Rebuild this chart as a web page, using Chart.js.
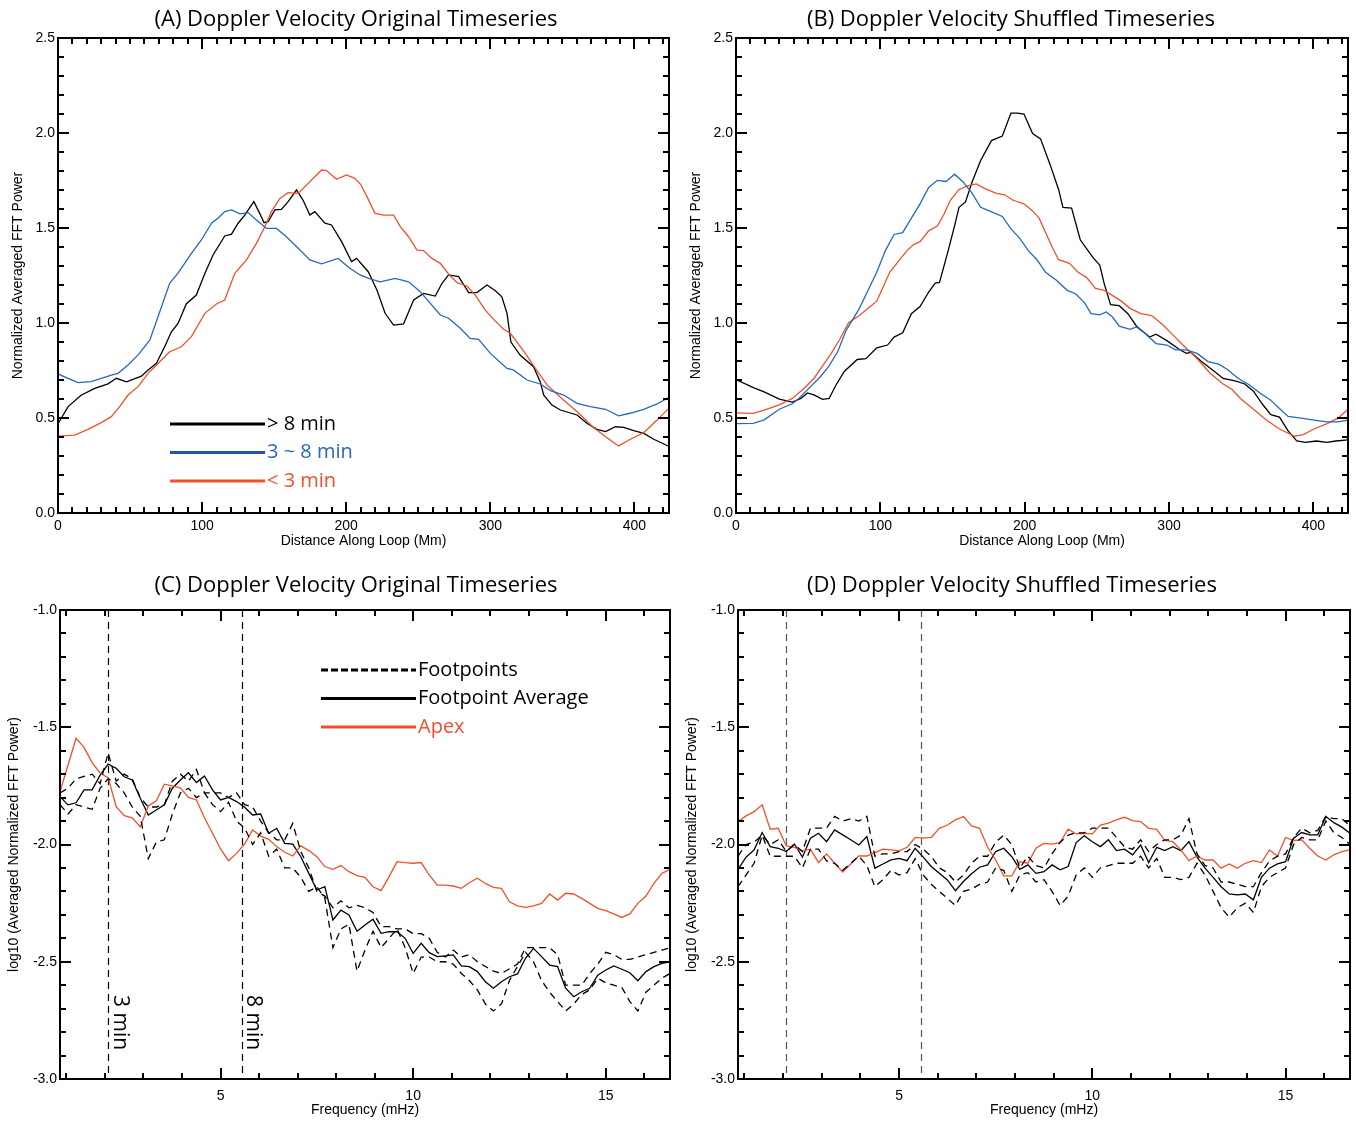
<!DOCTYPE html>
<html>
<head>
<meta charset="utf-8">
<script src="https://cdn.jsdelivr.net/npm/chart.js@4.4.0/dist/chart.umd.min.js"></script>
<style>
html, body { margin: 0; padding: 0; background: #fff; }
#wrap { position: relative; width: 1356px; height: 1124px; overflow: hidden; background: #fff; }
#wrap canvas { position: absolute; }
</style>
</head>
<body>
<div id="wrap">
  <canvas id="cA" width="678" height="560" style="left:0px;top:0px;width:678px;height:560px"></canvas>
  <canvas id="cB" width="678" height="560" style="left:678px;top:0px;width:678px;height:560px"></canvas>
  <canvas id="cC" width="678" height="564" style="left:0px;top:560px;width:678px;height:564px"></canvas>
  <canvas id="cD" width="678" height="564" style="left:678px;top:560px;width:678px;height:564px"></canvas>
</div>
<script>
// ---------------- DATA ----------------
// Panel A: Doppler velocity, original timeseries (distance in Mm, normalized power)
const aLongDist = [0,7,16,25.5,34.7,40.5,47.5,57.9,62.5,68.3,74,78.7,83.3,89,96,101.9,107.6,115.7,120.4,125,129.6,135.9,140,143,145.8,150.5,155,159.7,165.5,170,174.8,178.2,185.2,189.8,196.8,203.7,207.2,215.3,221.3,227,232.9,239.8,246.8,253.7,261.8,266.5,271,278,285,290.7,297.7,303.5,308,311.6,314.3,320.8,330,334.7,337,342.8,348.6,360.2,367,374,380,386.8,392.6,399.5,406.5,413.4,424.5];
const aLongPower = [0.47,0.56,0.62,0.656,0.68,0.709,0.69,0.72,0.753,0.788,0.875,0.954,0.998,1.10,1.147,1.26,1.358,1.458,1.468,1.525,1.568,1.639,1.577,1.528,1.533,1.595,1.598,1.639,1.70,1.647,1.568,1.586,1.525,1.516,1.428,1.323,1.34,1.27,1.174,1.051,0.989,0.995,1.121,1.156,1.142,1.209,1.253,1.244,1.16,1.16,1.2,1.17,1.138,1.051,0.90,0.83,0.77,0.69,0.621,0.568,0.542,0.516,0.472,0.44,0.428,0.454,0.451,0.433,0.419,0.388,0.349];
const aMidDist = [0,7,13.9,23,30,37,41.7,48.6,55.6,63.7,69.4,77.5,83.3,92.6,99.5,106.5,111,115.7,120.4,126.2,132,137.7,144.7,151.6,158.5,166.7,174.8,182.9,194.4,202.5,209.7,215.5,223.6,234,243.3,251.4,265.3,271,279.2,286,291.9,300,311.6,316,325.5,334.7,341.7,350.9,360.2,369.4,380,389,397,406.5,415.7,424.5];
const aMidPower = [0.732,0.709,0.686,0.691,0.709,0.726,0.735,0.779,0.832,0.91,1.033,1.209,1.262,1.367,1.437,1.525,1.551,1.586,1.595,1.574,1.581,1.542,1.498,1.498,1.454,1.393,1.332,1.311,1.34,1.288,1.253,1.235,1.217,1.235,1.217,1.165,1.042,1.025,0.972,0.919,0.914,0.84,0.761,0.753,0.70,0.679,0.644,0.621,0.577,0.56,0.546,0.511,0.525,0.546,0.574,0.612];
const aShortDist = [0,11.6,20.8,29,37,42.8,48.6,55.6,62.5,70.6,77.5,85.6,92.6,101.9,109.9,115.7,122.7,130.8,137.7,143.5,148.1,154,159.7,166.7,173.6,178.2,182.9,186.3,193.3,200.2,206,210,214.4,220,225.9,232.9,237.5,243.3,249.1,253.7,259.5,265.3,271,276.9,283.8,289.6,296.5,302.3,309.2,313.9,324.3,331.3,339.4,348.6,360.2,371.8,381,389,397.2,406.5,415.7,424.5];
const aShortPower = [0.405,0.41,0.44,0.472,0.507,0.56,0.621,0.665,0.735,0.796,0.849,0.875,0.928,1.051,1.10,1.121,1.262,1.332,1.419,1.507,1.586,1.656,1.686,1.682,1.735,1.77,1.805,1.802,1.756,1.779,1.761,1.73,1.665,1.577,1.568,1.568,1.507,1.454,1.384,1.381,1.34,1.314,1.258,1.212,1.195,1.147,1.068,1.019,0.967,0.946,0.84,0.761,0.674,0.609,0.533,0.449,0.396,0.353,0.388,0.423,0.489,0.556];

// Panel B: Doppler velocity, shuffled timeseries
const bLongDist = [0,12,19.5,30,39,45,49.5,54,60,64.5,69,75,84,90,97.5,105,109.5,115.5,121.5,127.5,133.5,138,141,147,151.5,154.5,159,163.5,169.5,177,184.5,190.5,195,199.5,205.5,211,217.5,223.5,226.5,232.5,238.5,243,247.5,252,255,259.5,265.5,271.5,277.5,286.5,291,298.5,307.5,312,315,322.5,331.5,337.5,346.5,352.5,358.5,364.5,370.5,376.5,382.5,388.5,394.5,402,409.5,415.5,424];
const bLongPower = [0.702,0.66,0.637,0.599,0.584,0.603,0.632,0.622,0.598,0.603,0.67,0.745,0.808,0.812,0.869,0.884,0.926,0.948,1.049,1.087,1.163,1.21,1.214,1.381,1.514,1.609,1.637,1.741,1.855,1.96,1.984,2.105,2.105,2.10,1.997,1.969,1.836,1.703,1.609,1.605,1.438,1.39,1.343,1.305,1.21,1.096,1.091,1.049,0.983,0.926,0.941,0.907,0.859,0.84,0.846,0.797,0.745,0.708,0.694,0.679,0.641,0.575,0.518,0.505,0.432,0.379,0.372,0.379,0.372,0.379,0.385];
const bMidDist = [0,12,19.5,30,39,43.5,51,58.5,64.5,70.5,76.5,85.5,91.5,97.5,103.5,109.5,115.5,121.5,127.5,133.5,139.5,145.5,151.5,157.5,163.5,169.5,175.5,184.5,190.5,196.5,202.5,208.5,214.5,222,229.5,235.5,241.5,246,252,256.5,261,265.5,273,277.5,283.5,291,298.5,304.5,312,319.5,327,334.5,340.5,348,355.5,363,370.5,376.5,382.5,391.5,400.5,409.5,417,424];
const bMidPower = [0.47,0.472,0.49,0.546,0.575,0.603,0.66,0.717,0.774,0.85,0.964,1.077,1.172,1.267,1.381,1.466,1.476,1.552,1.627,1.713,1.751,1.745,1.783,1.741,1.684,1.609,1.59,1.561,1.495,1.447,1.381,1.333,1.267,1.225,1.172,1.153,1.106,1.049,1.043,1.058,1.03,0.983,0.967,0.979,0.945,0.892,0.884,0.859,0.859,0.84,0.797,0.783,0.755,0.708,0.675,0.632,0.594,0.55,0.508,0.499,0.489,0.48,0.48,0.489];
const bShortDist = [0,12,19.5,30,39,46.5,54,60,66,72,78,85.5,91.5,97.5,102,106.5,112.5,118.5,123,127.5,133.5,139.5,144,148.5,154.5,160.5,166.5,172.5,180,186,192,199.5,205.5,210,214.5,219,223.5,231,237,243,249,255,261,267,273,280.5,288,295.5,303,310.5,319.5,328.5,337.5,343.5,349.5,358.5,367.5,376.5,387,393,400.5,409.5,417,424];
const bShortPower = [0.527,0.524,0.542,0.569,0.603,0.651,0.708,0.774,0.84,0.916,1.002,1.039,1.077,1.115,1.191,1.267,1.324,1.381,1.413,1.428,1.485,1.51,1.571,1.646,1.703,1.722,1.732,1.707,1.684,1.675,1.646,1.627,1.59,1.552,1.476,1.40,1.333,1.314,1.267,1.239,1.182,1.172,1.144,1.115,1.077,1.049,1.039,0.992,0.935,0.878,0.812,0.736,0.679,0.651,0.603,0.546,0.489,0.442,0.404,0.413,0.442,0.47,0.499,0.546];

// Panels C & D: frequency (mHz) and log10 power
const freqMHz = [0.833,1.042,1.25,1.458,1.667,1.875,2.083,2.292,2.5,2.708,
  2.917,3.125,3.333,3.542,3.75,3.958,4.167,4.375,4.583,4.792,
  5,5.208,5.417,5.625,5.833,6.042,6.25,6.458,6.667,6.875,
  7.083,7.292,7.5,7.708,7.917,8.125,8.333,8.542,8.75,8.958,
  9.167,9.375,9.583,9.792,10,10.208,10.417,10.625,10.833,11.042,
  11.25,11.458,11.667,11.875,12.083,12.292,12.5,12.708,12.917,13.125,
  13.333,13.542,13.75,13.958,14.167,14.375,14.583,14.792,15,15.208,
  15.417,15.625,15.833,16.042,16.25,16.458,16.667];

const cFootA = [-1.78,-1.76,-1.72,-1.71,-1.70,-1.74,-1.61,-1.73,-1.70,-1.72,
  -1.80,-1.84,-1.84,-1.83,-1.73,-1.70,-1.73,-1.68,-1.78,-1.78,
  -1.78,-1.80,-1.78,-1.83,-1.84,-1.90,-1.95,-1.98,-1.98,-1.91,
  -2.03,-2.10,-2.20,-2.22,-2.27,-2.24,-2.27,-2.26,-2.27,-2.29,
  -2.35,-2.35,-2.36,-2.36,-2.38,-2.38,-2.40,-2.46,-2.48,-2.45,
  -2.48,-2.47,-2.50,-2.52,-2.54,-2.55,-2.53,-2.51,-2.44,-2.44,
  -2.44,-2.44,-2.47,-2.60,-2.60,-2.60,-2.55,-2.51,-2.46,-2.47,
  -2.49,-2.49,-2.48,-2.47,-2.46,-2.45,-2.44];
const cFootB = [-1.83,-1.87,-1.83,-1.84,-1.85,-1.76,-1.72,-1.74,-1.78,-1.84,
  -1.88,-2.06,-1.99,-1.98,-1.87,-1.78,-1.76,-1.80,-1.78,-1.83,
  -1.86,-1.82,-1.90,-1.93,-2.00,-1.95,-2.05,-2.02,-2.10,-2.10,
  -2.14,-2.20,-2.18,-2.23,-2.44,-2.36,-2.34,-2.54,-2.45,-2.37,
  -2.44,-2.40,-2.36,-2.44,-2.55,-2.48,-2.48,-2.50,-2.50,-2.51,
  -2.55,-2.58,-2.62,-2.68,-2.71,-2.68,-2.58,-2.52,-2.46,-2.50,
  -2.58,-2.63,-2.67,-2.71,-2.68,-2.64,-2.62,-2.57,-2.59,-2.60,
  -2.61,-2.67,-2.71,-2.63,-2.60,-2.57,-2.55];
const cFootAvg = [-1.796,-1.831,-1.822,-1.767,-1.767,-1.704,-1.657,-1.675,-1.711,-1.725,
  -1.803,-1.874,-1.853,-1.831,-1.760,-1.725,-1.694,-1.736,-1.708,-1.767,
  -1.810,-1.799,-1.817,-1.841,-1.874,-1.870,-1.952,-1.931,-1.995,-1.998,
  -2.052,-2.123,-2.194,-2.180,-2.322,-2.280,-2.300,-2.370,-2.343,-2.319,
  -2.379,-2.372,-2.372,-2.400,-2.464,-2.421,-2.461,-2.478,-2.475,-2.471,
  -2.518,-2.521,-2.542,-2.585,-2.613,-2.585,-2.564,-2.552,-2.485,-2.443,
  -2.478,-2.514,-2.521,-2.613,-2.649,-2.628,-2.613,-2.557,-2.535,-2.518,
  -2.532,-2.547,-2.581,-2.542,-2.521,-2.507,-2.500];
const cApex = [-1.775,-1.661,-1.547,-1.586,-1.651,-1.696,-1.715,-1.839,-1.877,-1.886,
  -1.924,-1.836,-1.814,-1.743,-1.750,-1.758,-1.799,-1.810,-1.886,-1.952,
  -2.019,-2.069,-2.038,-1.998,-1.938,-1.964,-1.978,-2.009,-2.033,-2.049,
  -2.006,-2.026,-2.052,-2.094,-2.106,-2.090,-2.116,-2.133,-2.140,-2.180,
  -2.197,-2.137,-2.073,-2.077,-2.080,-2.077,-2.130,-2.173,-2.173,-2.177,
  -2.187,-2.163,-2.144,-2.166,-2.183,-2.187,-2.244,-2.262,-2.268,-2.262,
  -2.251,-2.211,-2.237,-2.208,-2.211,-2.230,-2.251,-2.272,-2.282,-2.296,
  -2.311,-2.296,-2.251,-2.220,-2.166,-2.123,-2.106];

const dFootA = [-2.05,-2.00,-1.99,-1.96,-2.00,-1.98,-2.03,-2.00,-2.03,-1.93,
  -1.93,-1.93,-1.88,-1.90,-1.89,-1.90,-1.88,-2.05,-2.04,-2.04,
  -2.03,-2.03,-2.00,-2.02,-2.05,-2.10,-2.12,-2.16,-2.13,-2.08,
  -2.05,-2.05,-1.99,-1.96,-2.00,-2.10,-2.05,-2.09,-2.10,-2.04,
  -1.99,-1.96,-1.95,-1.95,-1.93,-1.93,-1.93,-1.97,-2.01,-2.02,
  -1.98,-2.03,-2.00,-1.98,-1.98,-1.96,-1.89,-2.04,-2.09,-2.10,
  -2.16,-2.16,-2.17,-2.18,-2.18,-2.12,-2.07,-2.05,-2.04,-1.97,
  -1.93,-1.95,-1.94,-1.88,-1.89,-1.89,-1.92];
const dFootB = [-2.18,-2.13,-2.08,-1.96,-2.05,-2.05,-2.05,-2.05,-2.10,-2.02,
  -2.02,-2.07,-2.08,-2.11,-2.08,-2.05,-2.09,-2.18,-2.15,-2.11,
  -2.13,-2.12,-2.06,-2.13,-2.17,-2.20,-2.23,-2.26,-2.20,-2.19,
  -2.17,-2.16,-2.10,-2.11,-2.20,-2.13,-2.12,-2.16,-2.15,-2.20,
  -2.26,-2.22,-2.13,-2.10,-2.14,-2.10,-2.09,-2.08,-2.08,-2.08,
  -2.05,-2.10,-2.06,-2.14,-2.14,-2.15,-2.14,-2.08,-2.13,-2.20,
  -2.27,-2.31,-2.27,-2.25,-2.29,-2.18,-2.14,-2.12,-2.10,-2.00,
  -1.97,-1.98,-1.98,-1.90,-1.95,-1.97,-2.00];
const dFootAvg = [-2.106,-2.054,-2.023,-1.949,-2.009,-2.016,-2.030,-1.998,-2.054,-1.973,
  -1.952,-1.988,-1.938,-1.959,-1.980,-2.002,-1.966,-2.101,-2.083,-2.066,
  -2.059,-2.069,-2.016,-2.054,-2.094,-2.123,-2.151,-2.197,-2.158,-2.125,
  -2.097,-2.087,-2.030,-2.016,-2.052,-2.106,-2.087,-2.123,-2.116,-2.087,
  -2.108,-2.094,-1.992,-1.963,-1.988,-2.009,-1.980,-2.026,-2.020,-2.044,
  -2.002,-2.077,-2.012,-2.026,-2.009,-2.026,-1.988,-2.054,-2.101,-2.140,
  -2.180,-2.211,-2.215,-2.211,-2.236,-2.140,-2.101,-2.083,-2.073,-1.973,
  -1.949,-1.959,-1.959,-1.881,-1.907,-1.926,-1.952];
const dApex = [-1.902,-1.878,-1.860,-1.831,-1.935,-1.931,-2.006,-2.012,-2.027,-2.020,
  -2.077,-2.040,-2.080,-2.118,-2.083,-2.049,-2.049,-2.035,-2.020,-2.023,
  -2.027,-2.012,-1.970,-1.973,-1.970,-1.931,-1.917,-1.895,-1.881,-1.921,
  -1.931,-2.012,-2.066,-2.134,-2.134,-2.073,-2.080,-2.016,-1.995,-1.998,
  -1.992,-1.935,-1.955,-1.952,-1.955,-1.917,-1.909,-1.895,-1.884,-1.898,
  -1.902,-1.931,-1.935,-1.983,-1.988,-2.023,-2.069,-2.049,-2.066,-2.066,
  -2.101,-2.083,-2.101,-2.080,-2.069,-2.077,-2.023,-2.049,-1.970,-1.983,
  -1.980,-2.016,-2.049,-2.066,-2.044,-2.030,-2.023];

// Period marker lines (8 min and 3 min) in mHz
const periodLinesMHz = [1000 / 480, 1000 / 180];
const periodLabels = ['3 min', '8 min'];

// Text
const panelTitles = ['(A) Doppler Velocity Original Timeseries', '(B) Doppler Velocity Shuffled Timeseries',
                     '(C) Doppler Velocity Original Timeseries', '(D) Doppler Velocity Shuffled Timeseries'];
const bandLabels = ['> 8 min', '3 ~ 8 min', '< 3 min'];
const specLabels = ['Footpoints', 'Footpoint Average', 'Apex'];

// ---------------- STYLE ----------------
const RED = '#f0502e';
const BLUE = '#2768b8';
const TICK_FONT = '"Liberation Sans", Arial, Helvetica, sans-serif';
const TEXT_FONT = '"Open Sans", "Noto Sans", sans-serif';

function pairs(xs, ys) { return xs.map((x, i) => ({ x: x, y: ys[i] })); }

const idlFrame = {
  id: 'idlFrame',
  beforeDatasetsDraw(chart, args, o) {
    const { ctx, chartArea: a, scales: { x } } = chart;
    const lines = o.periodLines || [];
    if (!lines.length) return;
    ctx.save();
    ctx.strokeStyle = o.periodColor;
    ctx.lineWidth = 1.2;
    ctx.setLineDash([7, 5]);
    lines.forEach(f => {
      const px = Math.round(x.getPixelForValue(f)) + 0.5;
      ctx.beginPath(); ctx.moveTo(px, a.top); ctx.lineTo(px, a.bottom); ctx.stroke();
    });
    ctx.restore();
  },
  afterDatasetsDraw(chart, args, o) {
    const { ctx, chartArea: a, scales: { x, y } } = chart;
    ctx.save();
    ctx.setLineDash([]);
    ctx.strokeStyle = '#000';
    ctx.lineWidth = 2;
    ctx.strokeRect(a.left, a.top, a.right - a.left, a.bottom - a.top);
    ctx.beginPath();
    for (let i = Math.ceil(x.min / o.xMinor - 1e-9); i * o.xMinor <= x.max + 1e-9; i++) {
      const v = i * o.xMinor;
      const major = Math.abs(v / o.xMajor - Math.round(v / o.xMajor)) < 1e-6;
      const len = major ? 11 : 6;
      const px = Math.round(x.getPixelForValue(v));
      ctx.moveTo(px, a.bottom); ctx.lineTo(px, a.bottom - len);
      ctx.moveTo(px, a.top); ctx.lineTo(px, a.top + len);
    }
    for (let i = Math.ceil(y.min / o.yMinor - 1e-9); i * o.yMinor <= y.max + 1e-9; i++) {
      const v = i * o.yMinor;
      const major = Math.abs(v / o.yMajor - Math.round(v / o.yMajor)) < 1e-6;
      const len = major ? 11 : 6;
      const py = Math.round(y.getPixelForValue(v));
      ctx.moveTo(a.left, py); ctx.lineTo(a.left + len, py);
      ctx.moveTo(a.right, py); ctx.lineTo(a.right - len, py);
    }
    ctx.stroke();
    ctx.restore();
  }
};

const panelText = {
  id: 'panelText',
  afterDraw(chart, args, o) {
    const ctx = chart.ctx;
    ctx.save();
    ctx.fillStyle = '#000';
    ctx.font = '22px ' + TEXT_FONT;
    ctx.textAlign = 'center';
    ctx.textBaseline = 'middle';
    ctx.fillText(o.title, o.titleX, o.titleY);
    const items = o.legend || [];
    items.forEach((it, i) => {
      const yy = o.legendY + i * o.legendGap;
      ctx.strokeStyle = it.color;
      ctx.lineWidth = 3;
      ctx.setLineDash(it.dashed ? [7, 3] : []);
      ctx.beginPath(); ctx.moveTo(o.legendX0, yy); ctx.lineTo(o.legendX1, yy); ctx.stroke();
      ctx.setLineDash([]);
      ctx.fillStyle = it.textColor;
      ctx.font = '20px ' + TEXT_FONT;
      ctx.textAlign = 'left';
      ctx.textBaseline = 'middle';
      ctx.fillText(it.label, o.legendX1 + 2, yy);
    });
    const rots = o.rotated || [];
    rots.forEach(r => {
      const px = chart.scales.x.getPixelForValue(r.f) + r.dx;
      ctx.save();
      ctx.translate(px, r.y);
      ctx.rotate(Math.PI / 2);
      ctx.fillStyle = '#000';
      ctx.font = '21px ' + TEXT_FONT;
      ctx.textAlign = 'left';
      ctx.textBaseline = 'middle';
      ctx.fillText(r.text, 0, 0);
      ctx.restore();
    });
    ctx.restore();
  }
};

function makeChart(id, cfg) {
  return new Chart(document.getElementById(id), {
    type: 'line',
    data: { datasets: cfg.datasets },
    options: {
      responsive: false,
      animation: false,
      devicePixelRatio: 1,
      events: [],
      layout: { padding: cfg.padding },
      elements: { point: { radius: 0, hoverRadius: 0 }, line: { tension: 0, borderWidth: 1.3 } },
      plugins: {
        legend: { display: false },
        tooltip: { enabled: false },
        title: { display: false },
        idlFrame: cfg.frame,
        panelText: cfg.text
      },
      scales: {
        x: {
          type: 'linear', min: cfg.xMin, max: cfg.xMax,
          grid: { display: false, drawTicks: false }, border: { display: false },
          ticks: { stepSize: cfg.xStep, includeBounds: false, autoSkip: false, maxRotation: 0, padding: cfg.xTickPad,
                   color: '#000', font: { family: TICK_FONT, size: 14 } },
          title: { display: true, text: cfg.xTitle, color: '#000', font: { family: TICK_FONT, size: 14 },
                   padding: { top: 0, bottom: cfg.xTitlePad } },
          afterFit: s => { s.height = cfg.xHeight; }
        },
        y: {
          type: 'linear', min: cfg.yMin, max: cfg.yMax,
          grid: { display: false, drawTicks: false }, border: { display: false },
          ticks: { stepSize: 0.5, includeBounds: false, autoSkip: false, padding: 3, color: '#000',
                   font: { family: TICK_FONT, size: 14 }, callback: v => Number(v).toFixed(1) },
          title: { display: true, text: cfg.yTitle, color: '#000', font: { family: TICK_FONT, size: 14 },
                   padding: { top: cfg.yTitlePad, bottom: 0 } },
          afterFit: s => { s.width = cfg.yWidth; }
        }
      }
    },
    plugins: [idlFrame, panelText]
  });
}

function lineDs(data, color, dashed) {
  return { data: data, borderColor: color, borderWidth: 1.3, borderDash: dashed ? [7, 5] : [], pointRadius: 0, fill: false };
}

const distAxis = { xMin: 0, xMax: 424, xStep: 100, xTitle: 'Distance Along Loop (Mm)', xTickPad: 5, xTitlePad: 10, xHeight: 47,
                   yMin: 0, yMax: 2.5, yTitle: 'Normalized Averaged FFT Power', yTitlePad: 10, yWidth: 58 };
const distFrame = { xMinor: 10, xMajor: 100, yMinor: 0.1, yMajor: 0.5 };

makeChart('cA', Object.assign({}, distAxis, {
  padding: { top: 38, right: 9, bottom: 0, left: 0 },
  datasets: [lineDs(pairs(aMidDist, aMidPower), BLUE), lineDs(pairs(aShortDist, aShortPower), RED), lineDs(pairs(aLongDist, aLongPower), '#000')],
  frame: distFrame,
  text: { title: panelTitles[0], titleX: 356, titleY: 20,
          legendX0: 170, legendX1: 265, legendY: 424, legendGap: 28.5,
          legend: [ { label: bandLabels[0], color: '#000', textColor: '#000' },
                    { label: bandLabels[1], color: '#1f56a8', textColor: BLUE },
                    { label: bandLabels[2], color: RED, textColor: RED } ] }
}));

makeChart('cB', Object.assign({}, distAxis, {
  padding: { top: 38, right: 8, bottom: 0, left: 0 },
  datasets: [lineDs(pairs(bMidDist, bMidPower), BLUE), lineDs(pairs(bShortDist, bShortPower), RED), lineDs(pairs(bLongDist, bLongPower), '#000')],
  frame: distFrame,
  text: { title: panelTitles[1], titleX: 333, titleY: 20 }
}));

const freqAxis = { xMin: 0.8333, xMax: 16.6667, xStep: 5, xTitle: 'Frequency (mHz)', xTickPad: 9, xTitlePad: 5, xHeight: 45,
                   yMin: -3, yMax: -1, yTitle: 'log10 (Averaged Normalized FFT Power)', yTitlePad: 6, yWidth: 60 };
const freqFrame = { xMinor: 1, xMajor: 5, yMinor: 0.1, yMajor: 0.5 };

makeChart('cC', Object.assign({}, freqAxis, {
  padding: { top: 50, right: 8, bottom: 0, left: 0 },
  datasets: [lineDs(pairs(freqMHz, cFootA), '#000', true), lineDs(pairs(freqMHz, cFootB), '#000', true),
             lineDs(pairs(freqMHz, cApex), RED), lineDs(pairs(freqMHz, cFootAvg), '#000')],
  frame: Object.assign({ periodLines: periodLinesMHz, periodColor: '#000' }, freqFrame),
  text: { title: panelTitles[2], titleX: 356, titleY: 26,
          legendX0: 321, legendX1: 416, legendY: 110, legendGap: 28.5,
          legend: [ { label: specLabels[0], color: '#000', textColor: '#000', dashed: true },
                    { label: specLabels[1], color: '#000', textColor: '#000' },
                    { label: specLabels[2], color: RED, textColor: RED } ],
          rotated: [ { text: periodLabels[0], f: periodLinesMHz[0], dx: 12, y: 435 },
                     { text: periodLabels[1], f: periodLinesMHz[1], dx: 11, y: 435 } ] }
}));

makeChart('cD', Object.assign({}, freqAxis, {
  padding: { top: 50, right: 6, bottom: 0, left: 0 },
  datasets: [lineDs(pairs(freqMHz, dFootA), '#000', true), lineDs(pairs(freqMHz, dFootB), '#000', true),
             lineDs(pairs(freqMHz, dApex), RED), lineDs(pairs(freqMHz, dFootAvg), '#000')],
  frame: Object.assign({ periodLines: periodLinesMHz, periodColor: '#555' }, freqFrame),
  text: { title: panelTitles[3], titleX: 334, titleY: 26 }
}));
</script>
</body>
</html>
